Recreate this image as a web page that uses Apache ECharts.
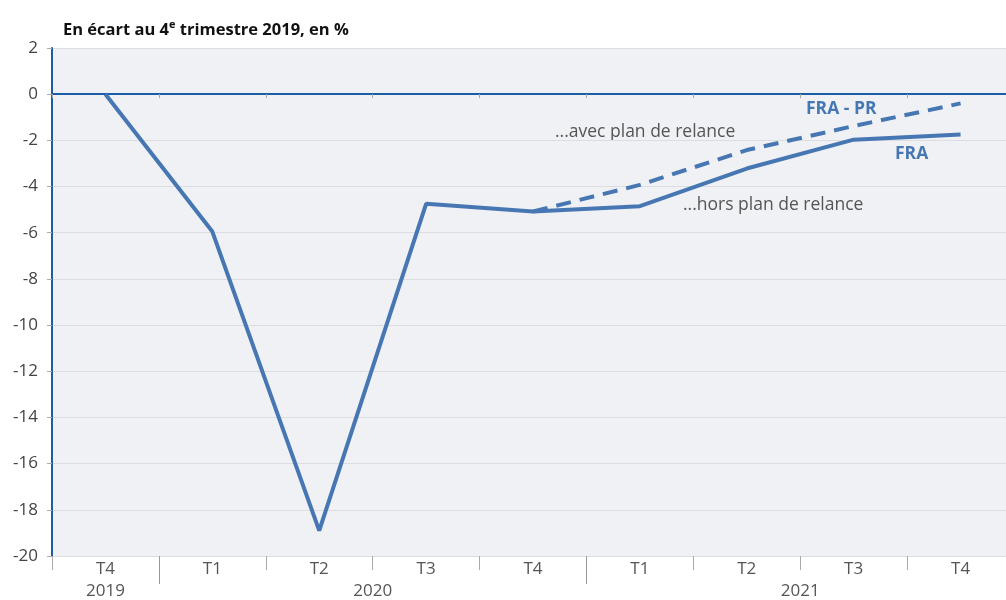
<!DOCTYPE html>
<html>
<head>
<meta charset="utf-8">
<script src="https://cdn.jsdelivr.net/npm/echarts@6/dist/echarts.min.js"></script>
<style>
  html, body { margin: 0; padding: 0; background: #fff; overflow: hidden; }
  #chart { width: 1017px; height: 600px; }
</style>
</head>
<body>
<div id="chart"></div>
<script>
// trimestres
var trimestres = ['T4', 'T1', 'T2', 'T3', 'T4', 'T1', 'T2', 'T3', 'T4'];
// FRA : hors plan de relance
var fra = [0, -5.95, -18.9, -4.75, -5.08, -4.85, -3.22, -1.97, -1.75];
// FRA - PR : avec plan de relance
var fraPR = [null, null, null, null, -5.08, -3.93, -2.42, -1.38, -0.4];
// annees (position en index de trimestre)
var annees = [{ pos: 0, txt: '2019' }, { pos: 2.5, txt: '2020' }, { pos: 6.5, txt: '2021' }];
var yTicks = { min: -20, max: 2, interval: 2 };

var bleu = '#4777b3';
var police = '"Open Sans", sans-serif';

var chart = echarts.init(document.getElementById('chart'));
var option = {
    backgroundColor: '#fff',
    animation: false,
    textStyle: { fontFamily: police },
    title: {
        left: 58,
        top: 10,
        text: '{b|En écart au 4}{s|e}{b| trimestre 2019, en %}',
        textStyle: {
            rich: {
                b: { fontFamily: police, fontWeight: 'bold', fontSize: 16.5, color: '#111', lineHeight: 24, verticalAlign: 'bottom' },
                s: { fontFamily: police, fontWeight: 'bold', fontSize: 11, color: '#111', lineHeight: 24, verticalAlign: 'top', padding: [4, 0, 0, 0] }
            }
        }
    },
    grid: {
        left: 52, right: 0, top: 48, bottom: 44,
        show: true, backgroundColor: '#f0f1f4', borderWidth: 0
    },
    xAxis: [
        {   // libelles trimestres + petits ticks
            type: 'category', position: 'bottom', data: trimestres,
            axisLine: { show: false, onZero: false },
            axisTick: { show: true, length: 14, lineStyle: { color: '#aaa' } },
            axisLabel: { fontSize: 17, color: '#555', margin: 5, fontFamily: police },
            splitLine: { show: false }
        },
        {   // grands ticks entre annees
            type: 'category', position: 'bottom', data: trimestres,
            axisLine: { show: false, onZero: false },
            axisTick: { show: true, length: 28, lineStyle: { color: '#999' },
                interval: function (i) { return i === 1 || i === 5; } },
            axisLabel: { show: false }
        },
        {   // annees
            type: 'value', position: 'bottom', min: -0.5, max: 8.5, interval: 0.5,
            axisLine: { show: false, onZero: false },
            axisTick: { show: false },
            splitLine: { show: false },
            axisLabel: {
                fontSize: 17, color: '#555', margin: 27, fontFamily: police,
                showMinLabel: true, showMaxLabel: true,
                formatter: function (v) {
                    for (var k = 0; k < annees.length; k++) {
                        if (Math.abs(annees[k].pos - v) < 1e-6) return annees[k].txt;
                    }
                    return '';
                }
            }
        },
        {   // ligne du zero
            type: 'category', position: 'bottom', data: trimestres,
            axisLine: { show: true, onZero: true, lineStyle: { color: '#1d5ca6', width: 2 } },
            axisTick: { show: true, length: 4, lineStyle: { color: '#aaa' } },
            axisLabel: { show: false }
        }
    ],
    yAxis: {
        type: 'value', min: yTicks.min, max: yTicks.max, interval: yTicks.interval,
        axisLine: { show: true, onZero: false, lineStyle: { color: '#1d5ca6', width: 2 } },
        axisTick: { show: true, length: 5, lineStyle: { color: '#aaa' } },
        axisLabel: { fontSize: 17, color: '#444', margin: 14, fontFamily: police },
        splitLine: { show: true, lineStyle: { color: '#dcdde1', width: 1 } }
    },
    graphic: [
        { type: 'text', left: 806, top: 100, style: { text: 'FRA - PR', fill: bleu, font: 'bold 17.5px ' + police } },
        { type: 'text', left: 895, top: 145, style: { text: 'FRA', fill: bleu, font: 'bold 17.5px ' + police } },
        { type: 'text', left: 555, top: 123, style: { text: '...avec plan de relance', fill: '#555', font: '17.5px ' + police } },
        { type: 'text', left: 683, top: 196, style: { text: '...hors plan de relance', fill: '#555', font: '17.5px ' + police } }
    ],
    series: [
        {
            name: 'FRA', type: 'line', xAxisIndex: 0, data: fra,
            symbol: 'none', lineStyle: { color: bleu, width: 4 }, z: 3
        },
        {
            name: 'FRA - PR', type: 'line', xAxisIndex: 0, data: fraPR,
            symbol: 'none', connectNulls: false,
            lineStyle: { color: bleu, width: 4, type: [15, 9] }, z: 2
        }
    ]
};
chart.setOption(option);
window.addEventListener('resize', chart.resize);
</script>
</body>
</html>
